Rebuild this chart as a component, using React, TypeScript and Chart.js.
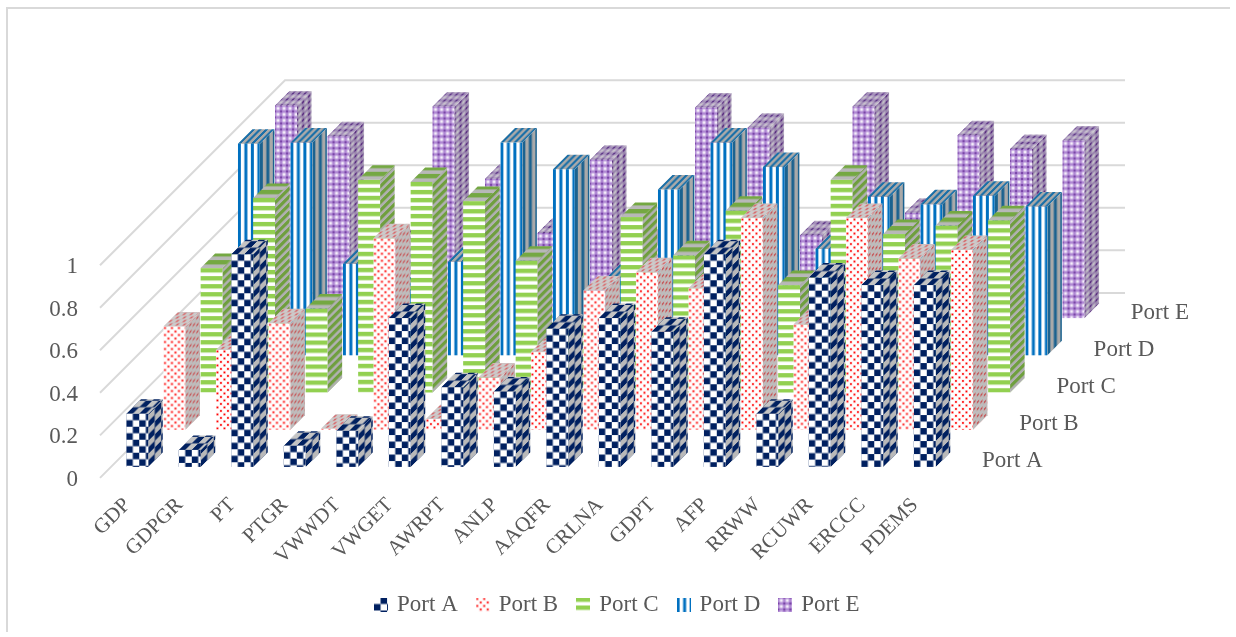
import React, { useEffect, useRef } from "react";
import { Chart, registerables, BarController, BarElement } from "chart.js";

const categories = ["GDP","GDPGR","PT","PTGR","VWWDT","VWGET","AWRPT","ANLP","AAQFR","CRLNA","GDPT","AFP","RRWW","RCUWR","ERCCC","PDEMS"];
const seriesNames = ["Port A","Port B","Port C","Port D","Port E"];
const portA = [0.25,0.08,1.0,0.10,0.17,0.70,0.375,0.355,0.65,0.70,0.635,1.0,0.25,0.89,0.855,0.855];
const portB = [0.485,0.375,0.50,0.005,0.90,0.05,0.245,0.365,0.655,0.74,0.665,0.995,0.495,0.995,0.805,0.845];
const portC = [0.585,0.915,0.395,1.0,0.99,0.90,0.62,0.28,0.825,0.645,0.855,0.505,1.0,0.745,0.785,0.81];
const portD = [0.995,1.0,0.43,0.30,0.44,1.0,0.875,0.36,0.78,1.0,0.885,0.50,0.745,0.71,0.75,0.70];
const portE = [1.0,0.855,0.35,0.995,0.655,0.40,0.745,0.35,0.99,0.895,0.39,0.995,0.495,0.86,0.795,0.835];
const seriesValues = [portA, portB, portC, portD, portE];
const yTicks = { min: 0, max: 1, step: 0.2 };

const FONT = '"Liberation Serif", serif';
const TEXT = "#595959";
const GRID = "#d9d9d9";
const W = 1236, H = 637;
const FRONT_SHIFT = 11;      // first series, distance from the front plane of the floor
const DEPTH_STEP = 37.2;     // one series further back
const WALL_DEPTH = 185;
const BAR_DEPTH = 14.5;
const RIGHT_RESERVE = 296;

type Paint = (c: CanvasRenderingContext2D, fg: string, bg: string, extra: string) => void;
const painters: { size: number; paint: Paint }[] = [
  { size: 13, paint: (c, fg, bg) => {
      c.fillStyle = bg; c.fillRect(0, 0, 13, 13);
      c.fillStyle = fg; c.fillRect(6.5, 0, 6.5, 6.5); c.fillRect(0, 6.5, 6.5, 6.5);
  } },
  { size: 7, paint: (c, fg, bg, extra) => {
      c.fillStyle = bg; c.fillRect(0, 0, 7, 7);
      c.fillStyle = extra;
      c.fillRect(0, 0, 3, 3); c.fillRect(3.5, 3.5, 3, 3);
      c.fillStyle = fg;
      c.fillRect(0.6, 0.6, 1.7, 1.7); c.fillRect(4.1, 4.1, 1.7, 1.7);
  } },
  { size: 8, paint: (c, fg, bg) => {
      c.fillStyle = bg; c.fillRect(0, 0, 8, 8);
      c.fillStyle = fg; c.fillRect(0, 0, 8, 4.4);
  } },
  { size: 13, paint: (c, fg, bg) => {
      c.fillStyle = bg; c.fillRect(0, 0, 13, 13);
      c.fillStyle = fg; c.fillRect(0, 0, 3, 13); c.fillRect(6.5, 0, 3, 13);
  } },
  { size: 6, paint: (c, fg, bg, extra) => {
      c.fillStyle = extra; c.fillRect(0, 0, 6, 6);
      c.fillStyle = bg; c.fillRect(1.5, 1.5, 3, 3);
      c.fillStyle = fg;
      c.fillRect(0, 0, 1.1, 1.1); c.fillRect(4.9, 0, 1.1, 1.1);
      c.fillRect(0, 4.9, 1.1, 1.1); c.fillRect(4.9, 4.9, 1.1, 1.1);
  } },
];
const frontColors = [
  ["#002060", "#ffffff", ""],
  ["#ff0000", "#ffffff", "#ffdcdc"],
  ["#92d050", "#ffffff", ""],
  ["#0070c0", "#ffffff", ""],
  ["#7a45a8", "#f4eefa", "#b089d4"],
];
const sideColors = [
  ["#002060", "#b9b9b9", ""],
  ["#c0474a", "#bdbdbd", "#c9a3a3"],
  ["#6f9f3e", "#b0b0b0", ""],
  ["#1b628f", "#a9a9a9", ""],
  ["#5b2f80", "#c4c0c8", "#9a86ae"],
];
const topColors = [
  ["#002060", "#c4c4c4", ""],
  ["#d65458", "#cbcbcb", "#d4a8a8"],
  ["#74a842", "#b8b8b8", ""],
  ["#1b70a8", "#a9a9a9", ""],
  ["#603a88", "#c9c4ce", "#a48fba"],
];

function makeTile(series: number, colors: string[][]) {
  const { size, paint } = painters[series];
  const t = document.createElement("canvas");
  t.width = size; t.height = size;
  const c = t.getContext("2d")!;
  const [fg, bg, extra] = colors[series];
  paint(c, fg, bg, extra);
  return t;
}
const cache = new Map<string, CanvasPattern>();
function pattern(ctx: CanvasRenderingContext2D, series: number, face: string, colors: string[][]) {
  const key = series + face;
  let p = cache.get(key);
  if (!p) { p = ctx.createPattern(makeTile(series, colors), "repeat")!; cache.set(key, p); }
  return p;
}

function legendMarker(series: number) {
  const m = document.createElement("canvas");
  m.width = 14; m.height = 14;
  const c = m.getContext("2d")!;
  c.fillStyle = c.createPattern(makeTile(series, frontColors), "repeat")!;
  c.fillRect(0, 0, 14, 14);
  return m;
}

class Bar3DElement extends BarElement {
  static id = "bar3d";
  static defaults = BarElement.defaults;
  depthIndex = 0;
  draw(ctx: CanvasRenderingContext2D) {
    const self = this as any;
    const s = this.depthIndex;
    const shift = FRONT_SHIFT + DEPTH_STEP * s;
    const left = self.x - self.width / 2 + shift;
    const w = self.width;
    const bottom = self.base - shift;
    const h = self.base - self.y;
    const d = BAR_DEPTH;
    ctx.save();
    // front
    ctx.save();
    ctx.translate(left, bottom - h);
    ctx.fillStyle = pattern(ctx, s, "f", frontColors);
    ctx.fillRect(0, 0, w, h);
    ctx.restore();
    // side
    ctx.save();
    ctx.transform(1, -1, 0, 1, left + w, bottom);
    ctx.fillStyle = pattern(ctx, s, "s", sideColors);
    ctx.fillRect(0, -h, d, h);
    ctx.restore();
    // top
    ctx.save();
    ctx.transform(1, 0, -1, 1, left, bottom - h);
    ctx.fillStyle = pattern(ctx, s, "t", topColors);
    ctx.fillRect(0, -d, w, d);
    ctx.restore();
    ctx.restore();
  }
}

class Bar3DController extends BarController {
  static id = "bar3d";
  static defaults = { ...BarController.defaults, dataElementType: "bar3d" };
  static overrides = BarController.overrides;
  updateElements(bars: any[], start: number, count: number, mode: any) {
    super.updateElements(bars, start, count, mode);
    for (let i = start; i < start + count; i++) bars[i].depthIndex = this.index;
  }
}

Chart.register(...registerables, Bar3DElement as any, Bar3DController as any);

const scenePlugin = {
  id: "scene",
  afterLayout(chart: any) {
    // the legend is centred on the whole picture, not on the floor of the 3D box
    const legend = chart.legend;
    if (legend) { legend.left += RIGHT_RESERVE / 2; legend.right += RIGHT_RESERVE / 2; }
  },
  beforeDraw(chart: any) {
    const c = chart.ctx;
    c.save();
    c.strokeStyle = GRID;
    c.lineWidth = 2;
    c.beginPath();
    c.moveTo(7, 632);
    c.lineTo(7, 8);
    c.lineTo(1230, 8);
    c.stroke();
    c.restore();
  },
  beforeDatasetsDraw(chart: any) {
    const { ctx: c, scales: { y }, chartArea: a } = chart;
    c.save();
    c.strokeStyle = GRID;
    c.lineWidth = 2;
    y.ticks.forEach((t: any) => {
      const py = y.getPixelForValue(t.value);
      c.beginPath();
      c.moveTo(a.left, py);
      c.lineTo(a.left + WALL_DEPTH, py - WALL_DEPTH);
      c.lineTo(a.right + WALL_DEPTH, py - WALL_DEPTH);
      c.stroke();
    });
    c.restore();
  },
  afterDraw(chart: any) {
    const { ctx: c, chartArea: a, scales: { y } } = chart;
    c.save();
    c.font = `23px ${FONT}`;
    c.fillStyle = TEXT;
    c.textAlign = "left";
    c.textBaseline = "middle";
    const y0 = y.getPixelForValue(0);
    chart.data.datasets.forEach((ds: any, i: number) => {
      const shift = FRONT_SHIFT + DEPTH_STEP * i;
      c.fillText(ds.label, a.right + 31 + shift, y0 - 5.5 - shift);
    });
    c.restore();
  },
};

export default function App() {
  const ref = useRef<HTMLCanvasElement>(null);
  useEffect(() => {
    const chart = new Chart(ref.current!, {
      type: "bar3d" as any,
      data: {
        labels: categories,
        datasets: seriesNames.map((label, i) => ({
          label,
          data: seriesValues[i],
          clip: false,
          grouped: false,
          categoryPercentage: 1,
          barPercentage: 22 / 52.5,
        })) as any,
      },
      options: {
        responsive: false,
        animation: false,
        devicePixelRatio: 1,
        layout: { padding: { left: 0, top: 265.2, right: RIGHT_RESERVE, bottom: 11 } },
        plugins: {
          tooltip: { enabled: false },
          legend: {
            display: true,
            position: "bottom",
            labels: {
              font: { family: FONT, size: 23 },
              color: TEXT,
              padding: 20.5,
              boxWidth: 9,
              boxHeight: 14,
              usePointStyle: true,
              generateLabels: (chart: any) =>
                chart.data.datasets.map((ds: any, i: number) => ({
                  text: ds.label,
                  fontColor: TEXT,
                  pointStyle: legendMarker(i),
                  datasetIndex: i,
                  lineWidth: 0,
                  strokeStyle: "transparent",
                })),
            },
          },
        },
        scales: {
          x: {
            type: "category",
            offset: true,
            grid: { display: false },
            border: { display: false },
            ticks: {
              autoSkip: false,
              minRotation: 45,
              maxRotation: 45,
              color: TEXT,
              font: { family: FONT, size: 21 },
              padding: 7,
              labelOffset: 1,
            },
            afterFit: (s: any) => { s.height = 94.6; },
          },
          y: {
            type: "linear",
            min: yTicks.min,
            max: yTicks.max,
            grid: { display: false },
            border: { display: false },
            ticks: {
              stepSize: yTicks.step,
              color: TEXT,
              font: { family: FONT, size: 23 },
              padding: 14,
              labelOffset: 2,
              callback: (v: any) => String(Number(Number(v).toFixed(1))),
            },
            afterFit: (s: any) => { s.width = 100; },
          },
        },
      } as any,
      plugins: [scenePlugin],
    });
    return () => chart.destroy();
  }, []);
  return (
    <div style={{ position: "fixed", left: 0, top: 0, width: W, height: H, background: "#fff" }}>
      <canvas ref={ref} width={W} height={H} style={{ display: "block" }} />
    </div>
  );
}
